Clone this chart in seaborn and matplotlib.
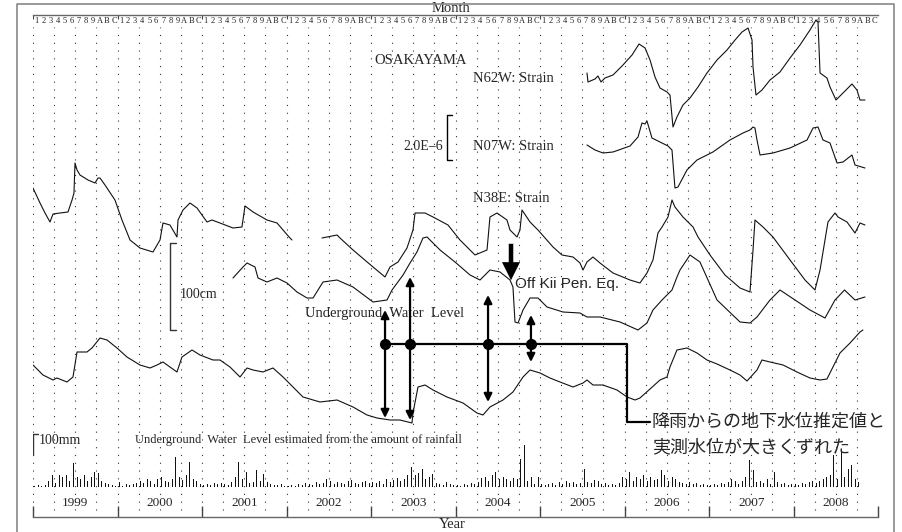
import matplotlib
matplotlib.use("Agg")
import matplotlib.pyplot as plt
import numpy as np
import pandas as pd
import seaborn as sns
from matplotlib.lines import Line2D

# ---------------- data (x: decimal year, v: relative plot units) ----------------
YEARS = [1999, 2000, 2001, 2002, 2003, 2004, 2005, 2006, 2007, 2008]
MONTH_LABELS = list("123456789ABC")

n62w_t = [2005.556, 2005.568, 2005.651, 2005.686, 2005.722, 2005.769, 2005.864, 2005.982, 2006.089, 2006.172,
          2006.243, 2006.302, 2006.361, 2006.420, 2006.503, 2006.538, 2006.574, 2006.621, 2006.692, 2006.775,
          2006.870, 2006.976, 2007.095, 2007.213, 2007.308, 2007.391, 2007.462, 2007.509, 2007.521, 2007.556,
          2007.627, 2007.722, 2007.840, 2007.959, 2008.077, 2008.195, 2008.266, 2008.290, 2008.314, 2008.396,
          2008.432, 2008.503, 2008.586, 2008.692, 2008.751, 2008.787, 2008.846]
n62w_v = [444, 435, 438, 441, 435, 439, 442, 452, 462, 473,
          469, 457, 440, 429, 425, 422, 390, 400, 412, 419,
          430, 444, 457, 467, 477, 485, 489, 477, 450, 422,
          427, 437, 445, 459, 472, 487, 497, 495, 444, 439,
          430, 417, 424, 433, 427, 417, 417]

n07w_t = [2005.556, 2005.651, 2005.745, 2005.864, 2006.065, 2006.160, 2006.207, 2006.243, 2006.266, 2006.325,
          2006.420, 2006.515, 2006.562, 2006.597, 2006.633, 2006.739, 2006.858, 2007.047, 2007.248, 2007.402,
          2007.485, 2007.521, 2007.544, 2007.568, 2007.604, 2007.757, 2007.959, 2008.160, 2008.231, 2008.290,
          2008.349, 2008.432, 2008.515, 2008.586, 2008.692, 2008.728, 2008.846]
n07w_v = [372, 367, 364, 365, 371, 380, 394, 393, 396, 379,
          375, 371, 367, 329, 330, 347, 357, 365, 377, 384,
          387, 390, 389, 377, 362, 364, 369, 377, 389, 390,
          377, 374, 354, 355, 362, 352, 349]

n38e_a_t = [1999.000, 1999.083, 1999.142, 1999.201, 1999.237, 1999.320, 1999.414, 1999.462, 1999.485, 1999.497,
            1999.521, 1999.556, 1999.651, 1999.734, 1999.769, 1999.793, 1999.852, 1999.970, 2000.053, 2000.148,
            2000.266, 2000.420, 2000.503, 2000.538, 2000.621, 2000.704, 2000.716, 2000.775, 2000.858, 2000.941,
            2001.059, 2001.118, 2001.213, 2001.367, 2001.473, 2001.509, 2001.604, 2001.769, 2001.888, 2001.959,
            2002.041, 2002.065]
n38e_a_v = [329, 314, 304, 295, 303, 304, 305, 317, 324, 354,
            347, 342, 337, 334, 339, 339, 332, 317, 297, 277,
            269, 265, 277, 294, 292, 280, 297, 307, 314, 309,
            295, 297, 294, 289, 290, 311, 305, 297, 294, 287,
            279, 277]

n38e_b_t = [2002.420, 2002.598, 2002.633, 2002.787, 2003.024, 2003.166, 2003.225, 2003.320, 2003.426, 2003.497,
            2003.521, 2003.639, 2003.734, 2003.911, 2004.053, 2004.231, 2004.373, 2004.408, 2004.491, 2004.609,
            2004.645, 2004.728, 2004.763, 2004.787, 2004.882, 2004.976, 2005.154, 2005.260, 2005.391, 2005.473,
            2005.509, 2005.556, 2005.627, 2005.710, 2005.864, 2006.065, 2006.183, 2006.266, 2006.337, 2006.396,
            2006.444, 2006.515, 2006.562, 2006.597, 2006.692, 2006.811, 2006.870, 2007.012, 2007.189, 2007.367,
            2007.485, 2007.521, 2007.544, 2007.639, 2007.757, 2007.959, 2008.136, 2008.254, 2008.314, 2008.408,
            2008.491, 2008.527, 2008.633, 2008.728, 2008.787, 2008.846]
n38e_b_v = [279, 282, 279, 267, 250, 240, 250, 255, 269, 287,
            304, 304, 300, 292, 277, 262, 267, 300, 304, 297,
            287, 280, 287, 307, 295, 287, 270, 262, 260, 254,
            247, 255, 260, 254, 244, 237, 234, 244, 257, 284,
            290, 300, 317, 310, 300, 290, 280, 262, 242, 229,
            225, 267, 297, 290, 280, 257, 237, 227, 247, 295,
            304, 300, 295, 284, 294, 292]

wl_obs_t = [2001.367, 2001.485, 2001.533, 2001.627, 2001.663, 2001.769, 2001.888, 2002.006, 2002.124, 2002.243,
            2002.314, 2002.432, 2002.598, 2002.787, 2003.024, 2003.189, 2003.249, 2003.379, 2003.462, 2003.544,
            2003.615, 2003.663, 2003.734, 2003.817, 2003.994, 2004.172, 2004.290, 2004.408, 2004.527, 2004.645,
            2004.680, 2004.704, 2004.740, 2004.799, 2004.882, 2004.976, 2005.083, 2005.272, 2005.473, 2005.556,
            2005.710, 2005.947, 2006.160, 2006.266, 2006.337, 2006.444, 2006.562, 2006.621, 2006.657, 2006.775,
            2006.893, 2007.095, 2007.367, 2007.485, 2007.568, 2007.722, 2007.840, 2008.018, 2008.195, 2008.373,
            2008.491, 2008.604, 2008.728, 2008.846]
wl_obs_v = [239, 250, 254, 250, 239, 235, 239, 234, 225, 219,
            219, 235, 237, 230, 215, 217, 227, 242, 254, 265,
            279, 280, 274, 267, 255, 242, 237, 247, 245, 237,
            230, 195, 194, 207, 219, 219, 210, 205, 204, 200,
            200, 195, 187, 194, 207, 217, 227, 240, 247, 262,
            255, 217, 195, 194, 200, 217, 227, 217, 207, 199,
            217, 227, 217, 220]

wl_est_t = [1999.000, 1999.118, 1999.237, 1999.284, 1999.402, 1999.473, 1999.521, 1999.639, 1999.698, 1999.793,
            1999.876, 1999.994, 2000.112, 2000.266, 2000.385, 2000.467, 2000.538, 2000.621, 2000.704, 2000.763,
            2000.882, 2000.976, 2001.130, 2001.213, 2001.331, 2001.450, 2001.533, 2001.604, 2001.722, 2001.840,
            2001.959, 2002.077, 2002.195, 2002.396, 2002.598, 2002.787, 2002.953, 2003.071, 2003.225, 2003.343,
            2003.485, 2003.497, 2003.556, 2003.639, 2003.734, 2003.899, 2004.089, 2004.254, 2004.325, 2004.408,
            2004.562, 2004.680, 2004.799, 2004.882, 2005.000, 2005.118, 2005.237, 2005.391, 2005.509, 2005.556,
            2005.627, 2005.745, 2005.911, 2006.030, 2006.124, 2006.183, 2006.302, 2006.420, 2006.503, 2006.538,
            2006.621, 2006.739, 2006.858, 2006.976, 2007.095, 2007.248, 2007.367, 2007.450, 2007.568, 2007.627,
            2007.722, 2007.876, 2008.041, 2008.195, 2008.314, 2008.396, 2008.467, 2008.550, 2008.669, 2008.787,
            2008.822]
wl_est_v = [152, 142, 137, 139, 135, 140, 165, 165, 169, 179,
            177, 169, 160, 152, 149, 152, 155, 150, 145, 160,
            167, 162, 157, 157, 150, 140, 149, 147, 145, 149,
            140, 130, 120, 115, 117, 110, 102, 99, 97, 97,
            94, 104, 130, 132, 127, 120, 114, 104, 102, 110,
            117, 125, 140, 147, 144, 139, 135, 130, 134, 137,
            132, 132, 127, 120, 117, 119, 128, 137, 140, 150,
            167, 169, 164, 157, 153, 147, 142, 136, 147, 157,
            155, 152, 145, 139, 137, 138, 150, 164, 174, 185,
            187]

# rainfall, semi-monthly totals (mm), one list per year
RAIN_MM = {
    1999: [5, 10, 5, 10, 30, 60, 20, 60, 50, 60, 30, 120, 50, 40, 60, 30, 50, 75, 70, 30, 20, 15, 10, 5],
    2000: [25, 5, 15, 10, 15, 20, 30, 20, 40, 30, 15, 40, 50, 30, 25, 40, 150, 50, 35, 60, 125, 40, 30, 15],
    2001: [10, 15, 10, 20, 15, 20, 15, 10, 25, 50, 125, 40, 75, 20, 25, 85, 30, 65, 25, 15, 10, 10, 15, 5],
    2002: [5, 10, 5, 15, 10, 20, 15, 10, 25, 15, 20, 40, 30, 15, 25, 20, 15, 30, 35, 20, 15, 25, 30, 20],
    2003: [25, 20, 30, 15, 40, 25, 35, 45, 30, 40, 60, 100, 60, 70, 90, 40, 50, 65, 20, 15, 10, 25, 15, 10],
    2004: [10, 5, 15, 10, 20, 15, 25, 45, 50, 30, 60, 75, 40, 50, 40, 30, 45, 40, 140, 210, 30, 50, 15, 50],
    2005: [15, 10, 15, 20, 10, 25, 15, 30, 20, 25, 15, 20, 90, 25, 20, 35, 30, 15, 20, 10, 15, 10, 20, 50],
    2006: [40, 75, 30, 50, 40, 60, 30, 50, 35, 40, 85, 60, 30, 50, 40, 25, 20, 15, 25, 15, 20, 10, 15, 10],
    2007: [10, 15, 10, 20, 15, 25, 40, 30, 15, 30, 50, 135, 85, 25, 30, 20, 40, 15, 75, 25, 15, 20, 10, 15],
    2008: [15, 10, 20, 15, 25, 30, 20, 30, 40, 50, 60, 160, 40, 185, 50, 90, 110, 40, 25],
}

# annotation anchors
DEV_X = [2003.166, 2003.462, 2004.385, 2004.893]        # points where estimate and observation diverge
DEV_TOP = [207, 240, 222, 202]
DEV_BOT = [99, 97, 115, 155]
DEV_Y = 173

# ---------------- style ----------------
sns.set_theme(style="white")
plt.rcParams['font.family'] = ['Liberation Serif', 'DejaVu Serif']
SERIF = ['Liberation Serif', 'DejaVu Serif']

fig = plt.figure(figsize=(9.03, 5.32), dpi=100)
ax = fig.add_axes([33 / 903, 15 / 532, 845 / 903, 502 / 532])
ax.set_xlim(1999, 2009)
ax.set_ylim(0, 502)
ax.set_facecolor('white')

for s in ['left', 'right']:
    ax.spines[s].set_visible(False)
for s in ['top', 'bottom']:
    ax.spines[s].set_color('#666666')
    ax.spines[s].set_linewidth(1.0)
ax.set_yticks([])
ax.set_xticks(list(range(1999, 2010)))
ax.set_xticklabels([])
ax.tick_params(axis='x', direction='in', length=8, width=1.0, color='#444444', bottom=True, top=False)

# dotted quarter grid
quarters = np.arange(1999, 2009.001, 0.25)
ax.vlines(quarters, 7, 490, colors='#333333', linestyles=(0, (1, 6)), linewidth=0.8, zorder=1)
# top ruler ticks at year boundaries
ax.vlines(list(range(1999, 2010)), 498, 502, colors='#444444', linewidth=0.8)

# ---------------- curves ----------------
frames = []
for name, t, v in [('n62w', n62w_t, n62w_v), ('n07w', n07w_t, n07w_v),
                   ('n38e_a', n38e_a_t, n38e_a_v), ('n38e_b', n38e_b_t, n38e_b_v),
                   ('wl_obs', wl_obs_t, wl_obs_v), ('wl_est', wl_est_t, wl_est_v)]:
    frames.append(pd.DataFrame({'t': t, 'v': v, 'seg': name}))
df = pd.concat(frames, ignore_index=True)
sns.lineplot(data=df, x='t', y='v', units='seg', estimator=None, sort=False,
             color='#111111', linewidth=0.8, ax=ax, zorder=3)
ax.set_xlabel('')
ax.set_ylabel('')

# ---------------- rainfall bars ----------------
RAIN_BASE = 30
RAIN_SCALE = 0.2   # plot units per mm
rx, rh = [], []
for yr in YEARS:
    for i, mm in enumerate(RAIN_MM[yr]):
        rx.append(yr + (i + 0.5) / 24)
        rh.append(mm * RAIN_SCALE)
ax.bar(rx, rh, width=0.012, bottom=RAIN_BASE, color='#111111', linewidth=0, zorder=3)

# ---------------- text ----------------
for yr in YEARS:
    for m, lab in enumerate(MONTH_LABELS):
        ax.text(yr + (m + 0.5) / 12, 496, lab, ha='center', va='center', fontsize=6,
                family=SERIF, color='#222222')
    ax.text(yr + 0.5, 14, str(yr), ha='center', va='center', fontsize=9.5, family=SERIF)

ax.text(2003.95, 508, 'Month', ha='center', va='center', fontsize=10.5, family=SERIF,
        clip_on=False)
ax.text(2003.96, -8, 'Year', ha='center', va='center', fontsize=10.5, family=SERIF,
        clip_on=False)

ax.text(2003.59, 457, 'OSAKAYAMA', ha='center', va='center', fontsize=10.5, family=SERIF)
ax.text(2004.207, 439, 'N62W: Strain', ha='left', va='center', fontsize=10.5, family=SERIF)
ax.text(2004.207, 370, 'N07W: Strain', ha='left', va='center', fontsize=10.5, family=SERIF)
ax.text(2004.207, 318, 'N38E: Strain', ha='left', va='center', fontsize=10.5, family=SERIF)

# strain scale bar
ax.plot([2003.959, 2003.899, 2003.899, 2003.959], [402, 402, 357, 357], color='black', lw=1.0)
ax.text(2003.852, 370, '2.0E\u20136', ha='right', va='center', fontsize=10, family=SERIF)

# water level scale bar
ax.plot([2000.692, 2000.621, 2000.621, 2000.692], [274, 274, 187, 187], color='#333333', lw=1.0)
ax.text(2000.74, 222, '100cm', ha='left', va='center', fontsize=10, family=SERIF)

ax.text(2002.219, 204, 'Underground  Water  Level', ha='left', va='center', fontsize=10.5, family=SERIF)

# rainfall scale bar
ax.plot([1999.06, 1999.0, 1999.0], [83, 83, 62], color='#333333', lw=1.0)
ax.text(1999.07, 77, '100mm', ha='left', va='center', fontsize=10, family=SERIF)
ax.text(2000.207, 77, 'Underground  Water  Level estimated from the amount of rainfall',
        ha='left', va='center', fontsize=9, family=SERIF)

# earthquake
ax.annotate('', xy=(2004.657, 234), xytext=(2004.657, 276),
            arrowprops=dict(arrowstyle='simple,tail_width=0.25,head_width=1.0,head_length=1.0',
                            mutation_scale=13, color='black', lw=0))
ax.text(2004.704, 233, 'Off Kii Pen. Eq.', ha='left', va='center', fontsize=11,
        family=['Liberation Sans', 'DejaVu Sans'])

# deviation markers
ax.plot([DEV_X[0], 2006.030, 2006.030, 2006.302], [DEV_Y, DEV_Y, 95, 95], color='black', lw=1.6,
        zorder=4)
for x, top, bot in zip(DEV_X, DEV_TOP, DEV_BOT):
    for end in (top, bot):
        ax.annotate('', xy=(x, end), xytext=(x, DEV_Y),
                    arrowprops=dict(arrowstyle='-|>', lw=1.6, color='black', mutation_scale=12,
                                    shrinkA=0, shrinkB=0), zorder=4)
ax.plot(DEV_X, [DEV_Y] * len(DEV_X), 'o', color='black', markersize=7, zorder=5)

ax.text(2006.325, 95, '降雨からの地下水位推定値と', ha='left', va='center', fontsize=13,
        family=['Noto Sans CJK JP', 'DejaVu Sans'])
ax.text(2006.325, 70, '実測水位が大きくずれた', ha='left', va='center', fontsize=13,
        family=['Noto Sans CJK JP', 'DejaVu Sans'])

# outer frame
fig.add_artist(Line2D([17 / 903, 17 / 903, 894 / 903, 894 / 903], [0, 528 / 532, 528 / 532, 0],
                      color='#888888', lw=1.2))

fig.savefig('out.png', dpi=100, facecolor='white')
